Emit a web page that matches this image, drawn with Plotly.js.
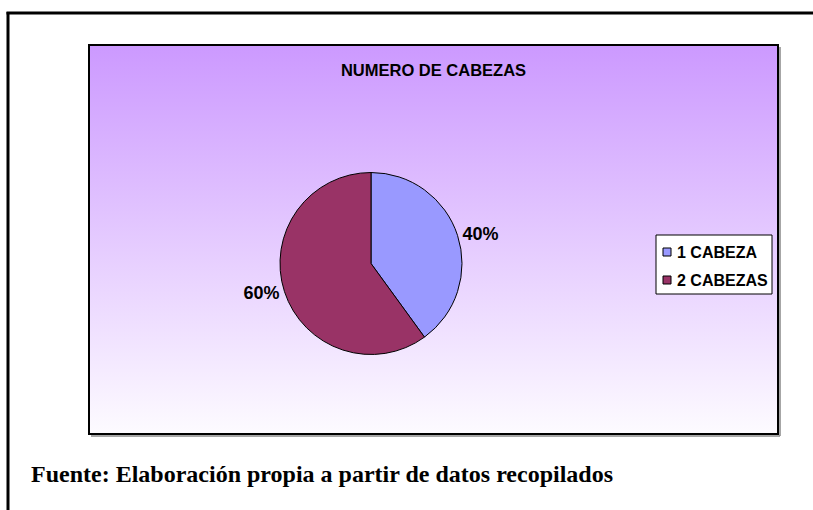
<!DOCTYPE html>
<html>
<head>
<meta charset="utf-8">
<script src="https://cdn.plot.ly/plotly-3.0.1.min.js"></script>
<style>
  html, body { margin: 0; padding: 0; background: #ffffff; }
  #chart { width: 813px; height: 510px; }
</style>
</head>
<body>
<div id="chart"></div>
<script>
// ---- data ----
const categories = ["1 CABEZA", "2 CABEZAS"];
const values = [40, 60];
const sliceColors = ["#9999FF", "#993366"];
const chartTitle = "NUMERO DE CABEZAS";
const sourceNote = "Fuente: Elaboración propia a partir de datos recopilados";

// ---- geometry (pixels) ----
const W = 813, H = 510;
const plotL = 89, plotR = 778, plotT = 45, plotB = 434;
const pw = plotR - plotL, ph = plotB - plotT;
const px = x => (x - plotL) / pw;
const py = y => (plotB - y) / ph;

const cx = 371, cy = 263.5, rad = 91;

const gradSvg = "<svg xmlns='http://www.w3.org/2000/svg' width='100' height='100' preserveAspectRatio='none'>" +
  "<defs><linearGradient id='g' x1='0' y1='0' x2='0' y2='1'>" +
  "<stop offset='0' stop-color='#CC99FF'/><stop offset='1' stop-color='#FDFBFF'/>" +
  "</linearGradient></defs><rect width='100' height='100' fill='url(#g)'/></svg>";
const gradUri = "data:image/svg+xml;charset=utf-8," + encodeURIComponent(gradSvg);

const trace = {
  type: "pie",
  labels: categories,
  values: values,
  marker: { colors: sliceColors, line: { color: "#000000", width: 1 } },
  sort: false,
  direction: "clockwise",
  rotation: 0,
  textinfo: "percent",
  textposition: "outside",
  textfont: { family: "Liberation Sans, Arial, sans-serif", size: 18, color: "#000000", weight: "bold" },
  hoverinfo: "label+percent",
  automargin: false,
  showlegend: false,
  domain: { x: [px(cx - rad), px(cx + rad)], y: [py(cy + rad), py(cy - rad)] }
};

// legend box drawn as shapes/annotations built from the category & colour arrays
const legL = 656, legR = 772, legT = 235, legB = 294;
const legRowY = [252, 280];
const legShapes = [
  { type: "rect", xref: "paper", yref: "paper", x0: px(legL), x1: px(legR), y0: py(legB), y1: py(legT),
    fillcolor: "#ffffff", line: { color: "#000000", width: 1 } }
];
const legAnn = [];
categories.forEach((c, i) => {
  const y = legRowY[i];
  legShapes.push({ type: "rect", xref: "paper", yref: "paper",
    x0: px(663), x1: px(671), y0: py(y + 4), y1: py(y - 4),
    fillcolor: sliceColors[i], line: { color: "#000000", width: 1 } });
  legAnn.push({ text: "<b>" + c + "</b>", xref: "paper", yref: "paper",
    x: px(675), y: py(y), xanchor: "left", yanchor: "middle", showarrow: false,
    font: { family: "Liberation Sans, Arial, sans-serif", size: 16, color: "#000000" } });
});

const layout = {
  width: W, height: H,
  margin: { l: plotL, r: W - plotR, t: plotT, b: H - plotB, pad: 0 },
  paper_bgcolor: "#ffffff",
  plot_bgcolor: "rgba(0,0,0,0)",
  font: { family: "Liberation Sans, Arial, sans-serif", color: "#000000" },
  title: {
    text: "<b>" + chartTitle + "</b>",
    font: { family: "Liberation Sans, Arial, sans-serif", size: 16.5, color: "#000000" },
    x: 0.5, xref: "paper", xanchor: "center",
    y: 1 - 70 / H, yref: "container", yanchor: "middle"
  },
  showlegend: false,
  images: [{
    source: gradUri, xref: "paper", yref: "paper",
    x: 0, y: 1, sizex: 1, sizey: 1, sizing: "stretch",
    xanchor: "left", yanchor: "top", layer: "below"
  }],
  shapes: [
    // inner box shadow
    { type: "line", xref: "paper", yref: "paper", x0: px(plotR + 2), x1: px(plotR + 2), y0: py(plotB + 2), y1: py(plotT + 2), line: { color: "#888888", width: 1.5 } },
    { type: "line", xref: "paper", yref: "paper", x0: px(plotL + 2), x1: px(plotR + 2), y0: py(plotB + 2), y1: py(plotB + 2), line: { color: "#888888", width: 1.5 } },
    // inner box border
    { type: "rect", xref: "paper", yref: "paper", x0: 0, x1: 1, y0: 0, y1: 1, line: { color: "#000000", width: 2 } },
    // outer frame (left and top edges)
    { type: "line", xref: "paper", yref: "paper", x0: px(8), x1: px(8), y0: py(12), y1: py(530), line: { color: "#000000", width: 3 } },
    { type: "line", xref: "paper", yref: "paper", x0: px(6.5), x1: px(830), y0: py(13), y1: py(13), line: { color: "#000000", width: 3 } }
  ].concat(legShapes),
  annotations: [{
    text: "<b>" + sourceNote + "</b>",
    xref: "paper", yref: "paper",
    x: px(29), y: py(474), xanchor: "left", yanchor: "middle",
    showarrow: false,
    font: { family: "Liberation Serif, Times New Roman, serif", size: 24, color: "#000000" }
  }].concat(legAnn)
};

Plotly.newPlot("chart", [trace], layout, { displayModeBar: false, staticPlot: true });
</script>
</body>
</html>
